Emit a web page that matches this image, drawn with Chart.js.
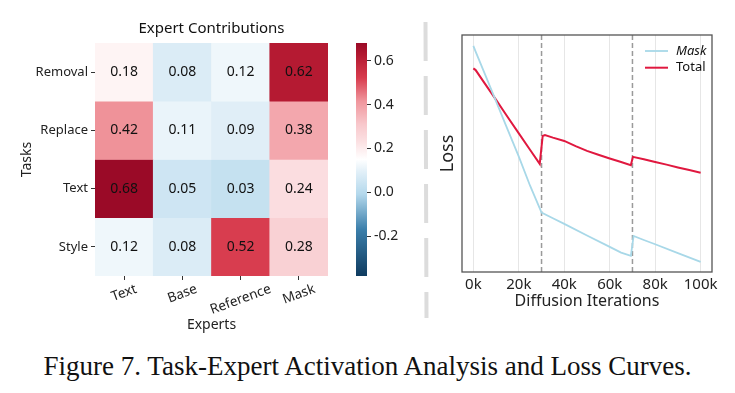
<!DOCTYPE html>
<html>
<head>
<meta charset="utf-8">
<script src="https://cdn.jsdelivr.net/npm/chart.js@4.4.1/dist/chart.umd.min.js"></script>
<style>
body{margin:0;background:#fff;width:735px;height:393px;position:relative;overflow:hidden}
canvas{position:absolute}
#caption{position:absolute;left:0;width:735px;top:351px;text-align:center;font-family:"Liberation Serif","Times New Roman",serif;font-size:27px;color:#111;white-space:nowrap}
</style>
</head>
<body>
<canvas id="heat" width="345" height="340" style="left:0;top:0"></canvas>
<canvas id="cbar" width="80" height="340" style="left:345px;top:0"></canvas>
<canvas id="sep" width="10" height="340" style="left:420px;top:0"></canvas>
<canvas id="loss" width="305" height="340" style="left:430px;top:0"></canvas>
<div id="caption">Figure 7. Task-Expert Activation Analysis and Loss Curves.</div>
<script>
// heatmap data
const tasks = ['Removal', 'Replace', 'Text', 'Style'];
const experts = ['Text', 'Base', 'Reference', 'Mask'];
const removal = [0.18, 0.08, 0.12, 0.62];
const replace = [0.42, 0.11, 0.09, 0.38];
const textTask = [0.68, 0.05, 0.03, 0.24];
const style = [0.12, 0.08, 0.52, 0.28];
const cbTicks = [-0.2, 0, 0.2, 0.4, 0.6];
const vmin = -0.38, vmax = 0.68;

// loss curves (iterations in k)
const maskSteps = [0, 1, 5, 10, 15, 20, 25, 30, 35, 40, 50, 60, 65, 69.3, 70.5, 75, 80, 90, 100];
const maskLoss = [0.954, 0.930, 0.837, 0.720, 0.603, 0.487, 0.363, 0.251, 0.227, 0.203, 0.154, 0.106, 0.082, 0.068, 0.152, 0.135, 0.117, 0.080, 0.043];
const totalSteps = [0, 1, 5, 10, 15, 20, 25, 29.2, 30.5, 31.5, 35, 40, 45, 50, 55, 60, 65, 69.3, 70.2, 75, 80, 85, 90, 95, 100];
const totalLoss = [0.859, 0.852, 0.796, 0.726, 0.655, 0.585, 0.515, 0.456, 0.574, 0.578, 0.567, 0.553, 0.531, 0.511, 0.495, 0.479, 0.464, 0.451, 0.486, 0.476, 0.464, 0.453, 0.441, 0.430, 0.419];
const xTicks = [0, 20, 40, 60, 80, 100];
const phaseMarks = [30, 70];

const FONT = "'Comic Sans MS', 'Noto Sans', sans-serif";
Chart.defaults.font.family = FONT;
Chart.defaults.color = '#222';

const stops = [
    [0.0, [15, 59, 95]], [0.2, [59, 127, 171]], [0.35, [179, 216, 236]], [0.45, [227, 240, 248]],
    [0.5, [255, 255, 255]], [0.58, [251, 223, 225]], [0.65, [248, 200, 204]], [0.75, [240, 150, 157]],
    [0.85, [216, 60, 78]], [0.95, [178, 24, 48]], [1.0, [154, 10, 39]]
];
function colorAt(v) {
    let t = (v - vmin) / (vmax - vmin);
    t = Math.max(0, Math.min(1, t));
    for (let i = 1; i < stops.length; i++) {
        if (t <= stops[i][0]) {
            const a = stops[i - 1], b = stops[i];
            const f = (t - a[0]) / (b[0] - a[0]);
            const c = a[1].map((x, k) => Math.round(x + (b[1][k] - x) * f));
            return `rgb(${c[0]},${c[1]},${c[2]})`;
        }
    }
    return 'rgb(154,10,39)';
}

const rows = [removal, replace, textTask, style];

const cellLabels = {
    id: 'cellLabels',
    afterDatasetsDraw(chart) {
        const ctx = chart.ctx;
        ctx.save();
        ctx.font = `14px ${FONT}`;
        ctx.fillStyle = '#111';
        ctx.textAlign = 'center';
        ctx.textBaseline = 'middle';
        chart.data.datasets.forEach((ds, i) => {
            chart.getDatasetMeta(i).data.forEach((bar, j) => {
                const p = bar.getProps(['x', 'y', 'base'], true);
                ctx.fillText(ds.values[j].toFixed(2), p.x, (p.y + p.base) / 2);
            });
        });
        ctx.restore();
    }
};

// rotated expert labels + title centred over the cells
const heatText = {
    id: 'heatText',
    afterDraw(chart) {
        const ctx = chart.ctx;
        const sx = chart.scales.x;
        const area = chart.chartArea;
        const top = area.bottom + 7;
        const a = 20 * Math.PI / 180;
        ctx.save();
        ctx.font = `13.5px ${FONT}`;
        ctx.fillStyle = '#222';
        ctx.textAlign = 'center';
        ctx.textBaseline = 'middle';
        chart.data.labels.forEach((lab, i) => {
            const x = sx.getPixelForTick(i);
            const w = ctx.measureText(lab).width;
            const bh = w * Math.sin(a) + 12 * Math.cos(a);
            ctx.translate(x, top + bh / 2);
            ctx.rotate(-a);
            ctx.fillText(lab, 0, 0);
            ctx.setTransform(1, 0, 0, 1, 0, 0);
        });
        ctx.font = `15px ${FONT}`;
        ctx.fillStyle = '#111';
        ctx.fillText('Expert Contributions', (area.left + area.right) / 2, area.top - 14);
        ctx.restore();
    }
};

new Chart(document.getElementById('heat'), {
    type: 'bar',
    data: {
        labels: experts,
        datasets: tasks.map((t, i) => ({
            label: t,
            data: rows[i].map(() => [i, i + 1]),
            values: rows[i],
            backgroundColor: rows[i].map(colorAt),
            borderWidth: 0,
            grouped: false,
            barPercentage: 1,
            categoryPercentage: 1
        }))
    },
    options: {
        responsive: false,
        animation: false,
        layout: { padding: { top: 43, right: 17, left: 0, bottom: 0 } },
        plugins: {
            legend: { display: false },
            tooltip: { enabled: false }
        },
        scales: {
            x: {
                afterFit: s => { s.height = 64; },
                ticks: { display: false },
                grid: { drawOnChartArea: false, offset: false, tickLength: 4, color: '#333' },
                border: { display: false },
                title: { display: true, text: 'Experts', font: { size: 14 }, color: '#222', padding: { top: 0, bottom: 6.5 } }
            },
            y: {
                type: 'linear',
                reverse: true,
                min: 0,
                max: 4,
                afterFit: s => { s.width = 95; },
                afterBuildTicks: s => { s.ticks = tasks.map((t, i) => ({ value: i + 0.5 })); },
                ticks: { callback: v => tasks[Math.floor(v)], font: { size: 13 }, padding: 3, color: '#222' },
                grid: { drawOnChartArea: false, tickLength: 4, color: '#333' },
                border: { display: false },
                title: { display: true, text: 'Tasks', font: { size: 14 }, color: '#222', padding: { top: 18.5, bottom: 0 } }
            }
        }
    },
    plugins: [cellLabels, heatText]
});

// colorbar
new Chart(document.getElementById('cbar'), {
    type: 'bar',
    data: {
        labels: [''],
        datasets: [{
            data: [[vmin, vmax]],
            borderWidth: 0,
            barPercentage: 1,
            categoryPercentage: 1,
            backgroundColor: (c) => {
                const chart = c.chart;
                if (!chart.chartArea) return '#fff';
                const sy = chart.scales.y;
                const g = chart.ctx.createLinearGradient(0, sy.getPixelForValue(vmin), 0, sy.getPixelForValue(vmax));
                stops.forEach(s => g.addColorStop(s[0], `rgb(${s[1].join(',')})`));
                return g;
            }
        }]
    },
    options: {
        responsive: false,
        animation: false,
        layout: { padding: { top: 43, right: 0, left: 11, bottom: 64 } },
        plugins: { legend: { display: false }, tooltip: { enabled: false } },
        scales: {
            x: { display: false },
            y: {
                position: 'right',
                min: vmin,
                max: vmax,
                afterFit: s => { s.width = 58; },
                afterBuildTicks: s => { s.ticks = cbTicks.map(v => ({ value: v })); },
                ticks: { callback: v => v.toFixed(1), font: { family: "'Noto Sans', sans-serif", size: 14 }, padding: 3, color: '#222' },
                grid: { drawOnChartArea: false, tickLength: 4, color: '#333' },
                border: { display: false }
            }
        }
    }
});

// dashed separator
const sctx = document.getElementById('sep').getContext('2d');
sctx.strokeStyle = '#dcdcdc';
sctx.lineWidth = 4;
sctx.setLineDash([39, 15]);
sctx.beginPath();
sctx.moveTo(5.5, 22);
sctx.lineTo(6.5, 318);
sctx.stroke();

// loss chart
const frameAndMarks = {
    id: 'frameAndMarks',
    beforeDatasetsDraw(chart) {
        const ctx = chart.ctx, a = chart.chartArea, sx = chart.scales.x;
        ctx.save();
        ctx.strokeStyle = '#9a9a9a';
        ctx.lineWidth = 1.5;
        ctx.setLineDash([5, 3]);
        phaseMarks.forEach(k => {
            const x = sx.getPixelForValue(k * 1000);
            ctx.beginPath();
            ctx.moveTo(x, a.top);
            ctx.lineTo(x, a.bottom);
            ctx.stroke();
        });
        ctx.restore();
    },
    afterDraw(chart) {
        const ctx = chart.ctx, a = chart.chartArea;
        ctx.save();
        ctx.strokeStyle = '#555';
        ctx.lineWidth = 1.3;
        ctx.strokeRect(a.left, a.top, a.right - a.left, a.bottom - a.top);
        // legend
        chart.data.datasets.forEach((ds, i) => {
            const y = a.top + 16 + i * 16.7;
            ctx.strokeStyle = ds.borderColor;
            ctx.lineWidth = ds.borderWidth;
            ctx.beginPath();
            ctx.moveTo(a.right - 67, y);
            ctx.lineTo(a.right - 44, y);
            ctx.stroke();
            ctx.fillStyle = '#111';
            ctx.font = (i === 0 ? 'italic ' : '') + `13px ${FONT}`;
            ctx.textBaseline = 'middle';
            ctx.fillText(ds.label, a.right - 36, y);
        });
        ctx.restore();
    }
};

new Chart(document.getElementById('loss'), {
    type: 'line',
    data: {
        datasets: [{
            label: 'Mask',
            data: maskSteps.map((s, i) => ({ x: s * 1000, y: maskLoss[i] })),
            borderColor: '#a8d8e8',
            borderWidth: 1.8,
            pointRadius: 0,
            tension: 0
        }, {
            label: 'Total',
            data: totalSteps.map((s, i) => ({ x: s * 1000, y: totalLoss[i] })),
            borderColor: '#e0183f',
            borderWidth: 2,
            pointRadius: 0,
            tension: 0
        }]
    },
    options: {
        responsive: false,
        animation: false,
        layout: { padding: { top: 35, right: 23, left: 0, bottom: 0 } },
        plugins: { legend: { display: false }, tooltip: { enabled: false } },
        scales: {
            x: {
                type: 'linear',
                min: -5000,
                max: 105000,
                afterFit: s => { s.height = 68; },
                afterBuildTicks: s => { s.ticks = xTicks.map(v => ({ value: v * 1000 })); },
                ticks: { callback: v => (v / 1000) + 'k', font: { size: 15 }, padding: 4, color: '#222', maxRotation: 0 },
                grid: { color: '#e6e6e6', drawTicks: false },
                border: { display: false },
                title: { display: true, text: 'Diffusion Iterations', font: { size: 16 }, color: '#222', padding: { top: 0, bottom: 28.5 } }
            },
            y: {
                min: 0,
                max: 1,
                afterFit: s => { s.width = 32; },
                ticks: { display: false },
                grid: { display: false },
                border: { display: false },
                title: { display: true, text: 'Loss', font: { size: 18 }, color: '#222', padding: { top: 7.5, bottom: 0 } }
            }
        }
    },
    plugins: [frameAndMarks]
});
</script>
</body>
</html>
